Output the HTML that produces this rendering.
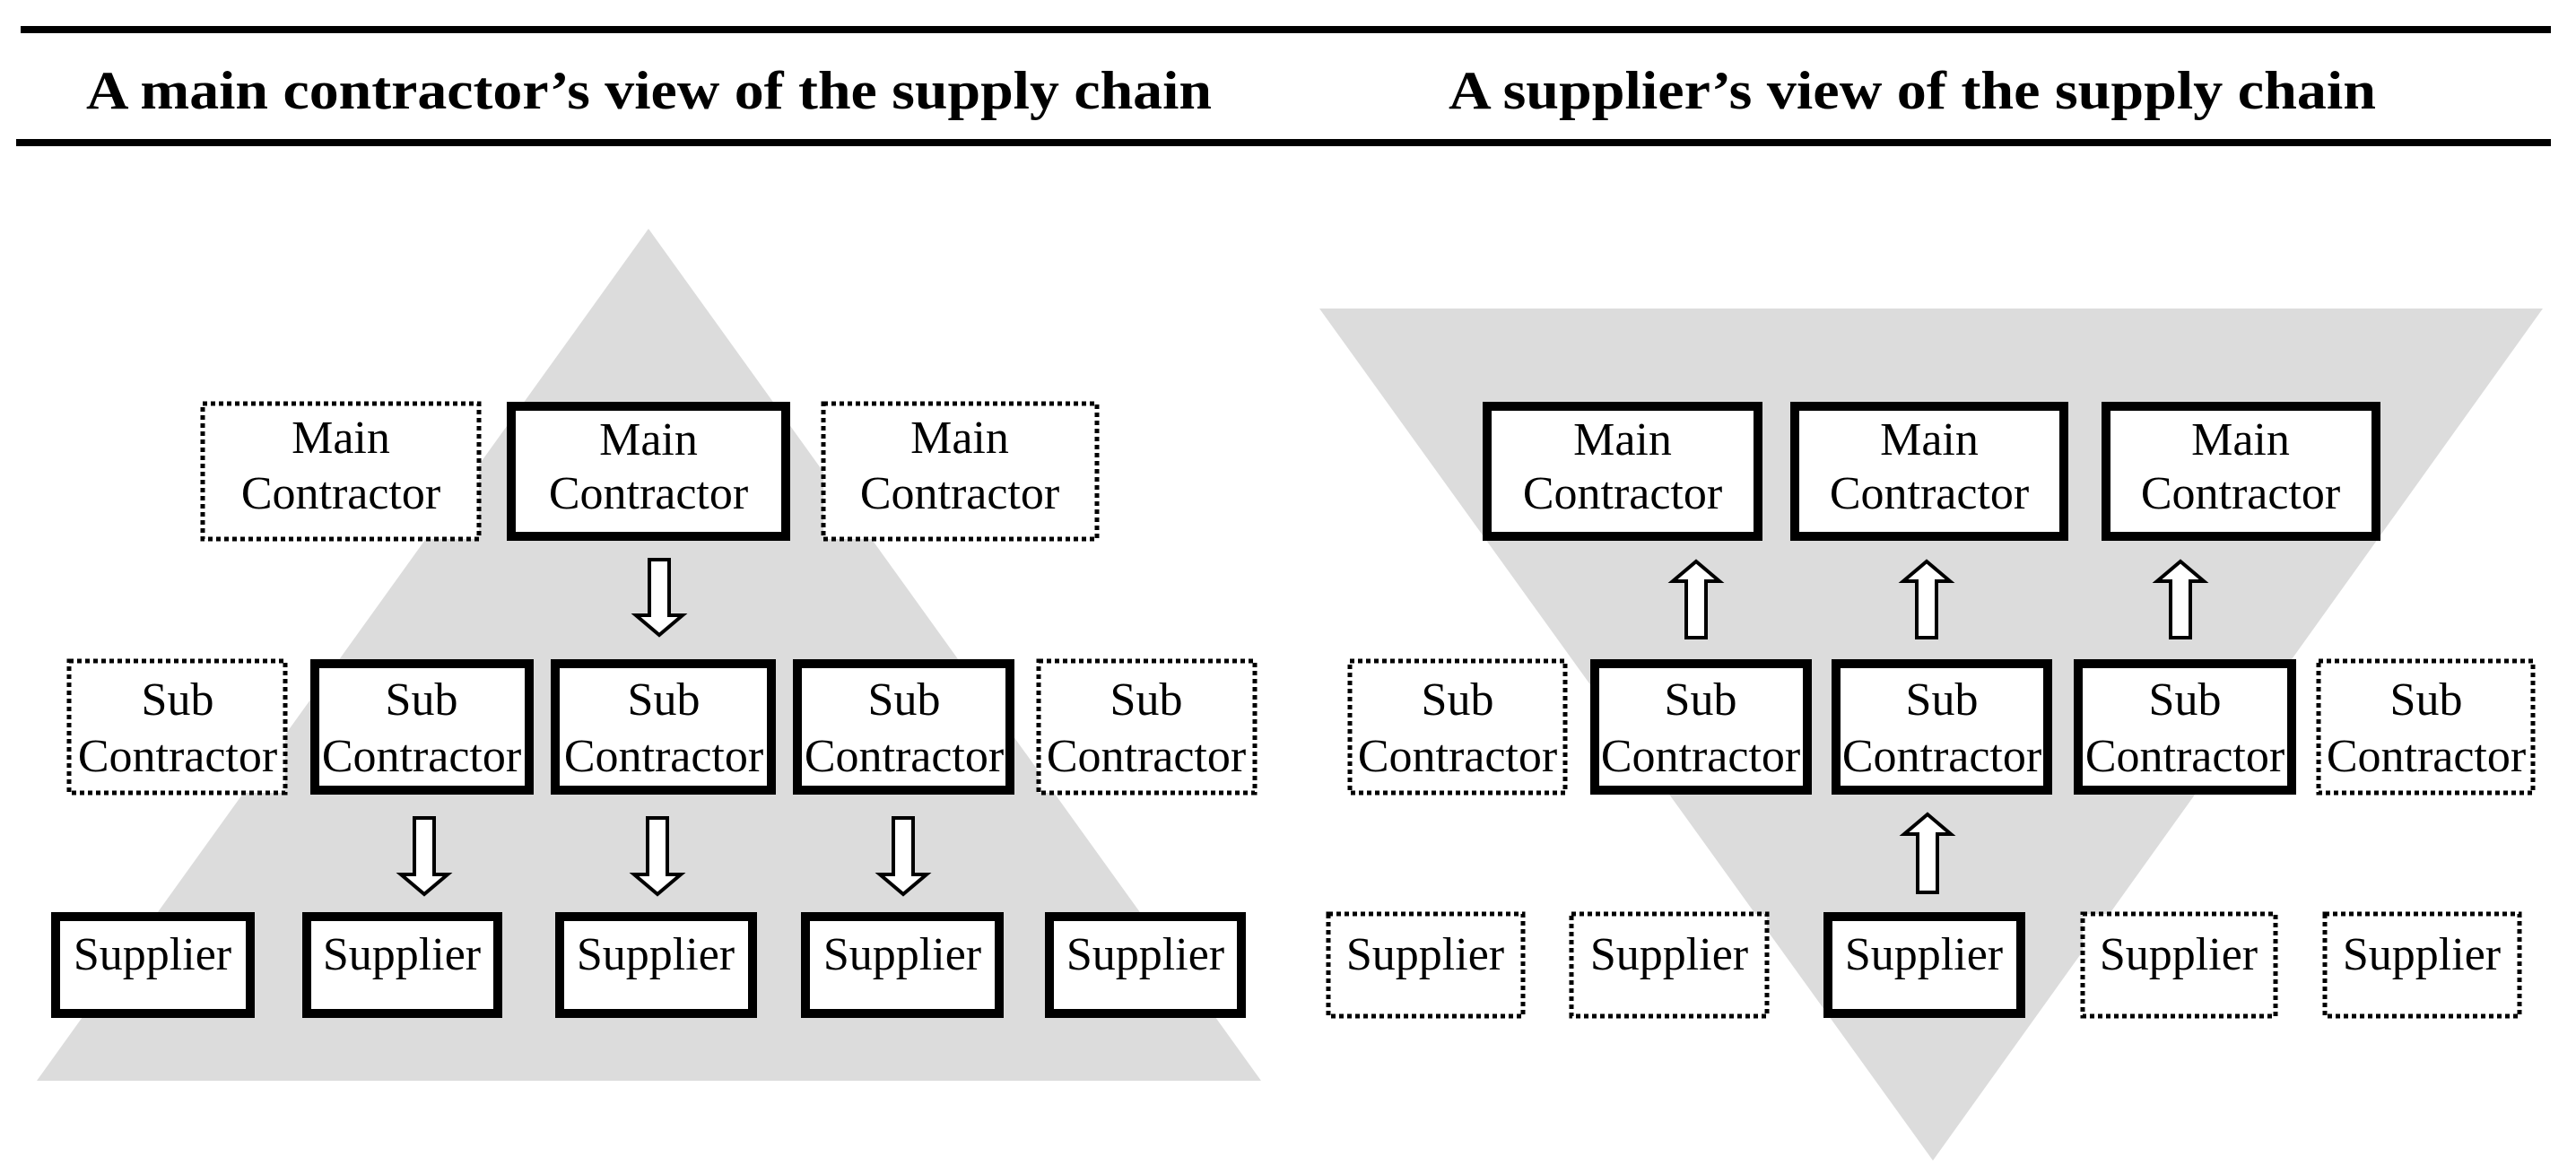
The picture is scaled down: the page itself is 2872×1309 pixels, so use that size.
<!DOCTYPE html>
<html><head><meta charset="utf-8"><style>
html,body{margin:0;padding:0;background:#fff;}
svg{display:block;}
text{font-family:"Liberation Serif",serif;fill:#000;}
.t{font-size:52px;text-anchor:middle;}
.h{font-size:60px;font-weight:bold;}
.s{fill:#fff;stroke:#000;stroke-width:10;}
.d{fill:#fff;stroke:#000;stroke-width:5;stroke-dasharray:5 4;}
.a{fill:#fff;stroke:#000;stroke-width:4;stroke-linejoin:miter;}
</style></head><body>
<svg width="2872" height="1309" viewBox="0 0 2872 1309" xmlns="http://www.w3.org/2000/svg">
<rect x="23" y="29" width="2821" height="8" fill="#000"/>
<rect x="18" y="155" width="2826" height="8" fill="#000"/>
<text class="h" x="96" y="121" textLength="1255" lengthAdjust="spacingAndGlyphs">A main contractor’s view of the supply chain</text>
<text class="h" x="1615" y="121" textLength="1034" lengthAdjust="spacingAndGlyphs">A supplier’s view of the supply chain</text>

<polygon points="723,255 1406,1205 41,1205" fill="#dcdcdc"/>
<polygon points="1471,344 2835,344 2155,1294" fill="#dcdcdc"/>

<!-- LEFT -->
<rect class="d" x="226" y="450" width="308" height="151"/>
<rect class="s" x="570" y="453" width="306" height="145"/>
<rect class="d" x="918" y="450" width="305" height="151"/>
<text class="t" x="380" y="505">Main</text><text class="t" x="380" y="567">Contractor</text>
<text class="t" x="723" y="507">Main</text><text class="t" x="723" y="567">Contractor</text>
<text class="t" x="1070" y="505">Main</text><text class="t" x="1070" y="567">Contractor</text>

<rect class="d" x="77" y="737" width="241" height="147"/>
<rect class="s" x="351" y="740" width="239" height="141"/>
<rect class="s" x="619" y="740" width="241" height="141"/>
<rect class="s" x="889" y="740" width="237" height="141"/>
<rect class="d" x="1158" y="737" width="241" height="147"/>
<text class="t" x="198" y="797">Sub</text><text class="t" x="198" y="860">Contractor</text>
<text class="t" x="470" y="797">Sub</text><text class="t" x="470" y="860">Contractor</text>
<text class="t" x="740" y="797">Sub</text><text class="t" x="740" y="860">Contractor</text>
<text class="t" x="1008" y="797">Sub</text><text class="t" x="1008" y="860">Contractor</text>
<text class="t" x="1278" y="797">Sub</text><text class="t" x="1278" y="860">Contractor</text>

<rect class="s" x="62" y="1022" width="217" height="108"/>
<rect class="s" x="342" y="1022" width="213" height="108"/>
<rect class="s" x="624" y="1022" width="215" height="108"/>
<rect class="s" x="898" y="1022" width="216" height="108"/>
<rect class="s" x="1170" y="1022" width="214" height="108"/>
<text class="t" x="170" y="1081">Supplier</text>
<text class="t" x="448" y="1081">Supplier</text>
<text class="t" x="731" y="1081">Supplier</text>
<text class="t" x="1006" y="1081">Supplier</text>
<text class="t" x="1277" y="1081">Supplier</text>

<!-- down arrows -->
<polygon class="a" points="724,624 746,624 746,686 761,686 735,708 709,686 724,686"/>
<polygon class="a" points="462,912 484,912 484,975 499,975 473,997 447,975 462,975"/>
<polygon class="a" points="722,912 744,912 744,975 759,975 733,997 707,975 722,975"/>
<polygon class="a" points="996,912 1018,912 1018,975 1033,975 1007,997 981,975 996,975"/>

<!-- RIGHT -->
<rect class="s" x="1658" y="453" width="302" height="145"/>
<rect class="s" x="2001" y="453" width="300" height="145"/>
<rect class="s" x="2348" y="453" width="301" height="145"/>
<text class="t" x="1809" y="507">Main</text><text class="t" x="1809" y="567">Contractor</text>
<text class="t" x="2151" y="507">Main</text><text class="t" x="2151" y="567">Contractor</text>
<text class="t" x="2498" y="507">Main</text><text class="t" x="2498" y="567">Contractor</text>

<rect class="d" x="1505" y="737" width="240" height="147"/>
<rect class="s" x="1778" y="740" width="237" height="141"/>
<rect class="s" x="2047" y="740" width="236" height="141"/>
<rect class="s" x="2317" y="740" width="238" height="141"/>
<rect class="d" x="2585" y="737" width="239" height="147"/>
<text class="t" x="1625" y="797">Sub</text><text class="t" x="1625" y="860">Contractor</text>
<text class="t" x="1896" y="797">Sub</text><text class="t" x="1896" y="860">Contractor</text>
<text class="t" x="2165" y="797">Sub</text><text class="t" x="2165" y="860">Contractor</text>
<text class="t" x="2436" y="797">Sub</text><text class="t" x="2436" y="860">Contractor</text>
<text class="t" x="2705" y="797">Sub</text><text class="t" x="2705" y="860">Contractor</text>

<rect class="d" x="1481" y="1019" width="217" height="114"/>
<rect class="d" x="1752" y="1019" width="218" height="114"/>
<rect class="s" x="2038" y="1022" width="215" height="108"/>
<rect class="d" x="2322" y="1019" width="215" height="114"/>
<rect class="d" x="2592" y="1019" width="217" height="114"/>
<text class="t" x="1589" y="1081">Supplier</text>
<text class="t" x="1861" y="1081">Supplier</text>
<text class="t" x="2145" y="1081">Supplier</text>
<text class="t" x="2429" y="1081">Supplier</text>
<text class="t" x="2700" y="1081">Supplier</text>

<!-- up arrows -->
<polygon class="a" points="1880,711 1902,711 1902,648 1917,648 1891,626 1865,648 1880,648"/>
<polygon class="a" points="2137,711 2159,711 2159,648 2174,648 2148,626 2122,648 2137,648"/>
<polygon class="a" points="2420,711 2442,711 2442,648 2457,648 2431,626 2405,648 2420,648"/>
<polygon class="a" points="2138,995 2160,995 2160,930 2175,930 2149,908 2123,930 2138,930"/>
</svg>
</body></html>
